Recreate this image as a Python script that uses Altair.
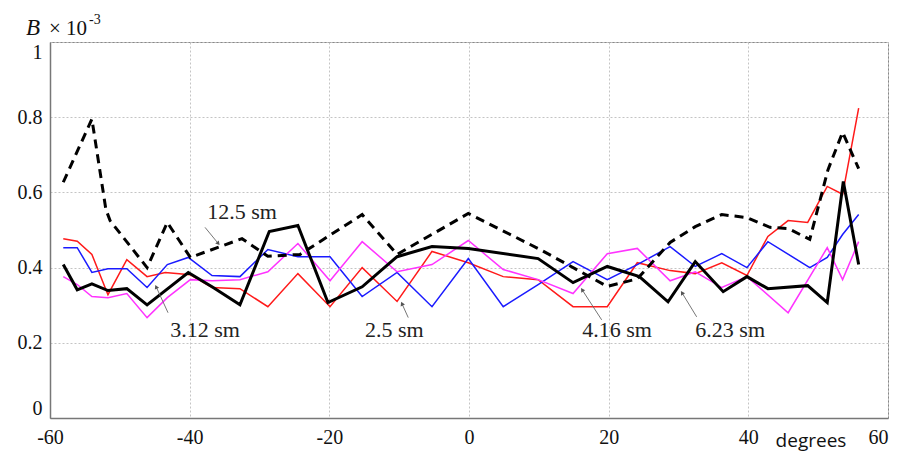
import math
import altair as alt
import pandas as pd

# ---- data ----
red_x = [-58.1, -56.1, -54.0, -51.7, -49.0, -46.1, -43.5, -39.9, -36.8, -32.8, -28.8, -24.5, -19.9, -15.3, -10.3, -5.3,
         -0.1, 4.9, 9.9, 14.9, 19.8, 24.1, 28.8, 32.4, 36.2, 39.8, 42.8, 45.7, 48.5, 51.3, 53.5, 55.8]
red_y = [0.477, 0.470, 0.435, 0.328, 0.421, 0.376, 0.387, 0.381, 0.347, 0.344, 0.296, 0.384, 0.296, 0.400, 0.310, 0.443,
         0.413, 0.376, 0.368, 0.296, 0.296, 0.413, 0.392, 0.384, 0.413, 0.379, 0.483, 0.525, 0.520, 0.616, 0.595, 0.824]

blue_x = [-58.1, -56.1, -54.0, -51.7, -49.0, -46.1, -43.2, -40.2, -36.8, -32.8, -28.8, -24.5, -19.9, -15.3, -10.3, -5.3,
          -0.1, 4.9, 9.9, 14.9, 19.8, 24.1, 28.8, 32.4, 36.2, 39.8, 42.8, 48.8, 51.3, 53.5, 55.8]
blue_y = [0.453, 0.453, 0.387, 0.397, 0.397, 0.347, 0.408, 0.427, 0.379, 0.376, 0.448, 0.429, 0.429, 0.323, 0.387, 0.296,
          0.424, 0.296, 0.355, 0.416, 0.368, 0.408, 0.456, 0.403, 0.437, 0.400, 0.469, 0.400, 0.427, 0.488, 0.541]

mag_x = [-58.1, -56.1, -54.0, -51.7, -49.0, -46.1, -43.2, -39.9, -36.8, -32.8, -28.8, -24.5, -19.9, -15.3, -10.3, -5.3,
         -0.1, 4.9, 9.9, 14.9, 19.8, 24.1, 28.8, 32.4, 36.2, 39.8, 45.7, 51.3, 53.5, 55.8]
mag_y = [0.376, 0.355, 0.323, 0.320, 0.331, 0.267, 0.320, 0.368, 0.365, 0.368, 0.389, 0.464, 0.365, 0.469, 0.389, 0.408,
         0.472, 0.395, 0.368, 0.331, 0.437, 0.451, 0.365, 0.389, 0.347, 0.376, 0.280, 0.453, 0.368, 0.469]

blk_x = [-58.1, -56.1, -54.0, -51.7, -49.0, -46.1, -40.2, -36.8, -32.8, -28.6, -24.5, -20.2, -15.3, -10.3, -5.3, -0.1,
         9.9, 14.9, 19.8, 24.4, 28.5, 32.4, 36.4, 39.8, 42.8, 48.5, 51.3, 53.6, 55.8]
blk_y = [0.408, 0.341, 0.357, 0.339, 0.344, 0.301, 0.387, 0.349, 0.301, 0.496, 0.512, 0.307, 0.349, 0.429, 0.456, 0.451,
         0.424, 0.360, 0.403, 0.376, 0.309, 0.416, 0.336, 0.376, 0.344, 0.352, 0.307, 0.629, 0.408]

dash_x = [-58.1, -54.0, -52.0, -51.4, -46.1, -43.2, -39.9, -32.5, -28.8, -24.2, -15.3, -10.3, -0.1, 10.2, 19.8, 24.1,
          28.8, 32.4, 36.2, 39.8, 43.1, 45.7, 48.8, 51.4, 53.5, 55.8]
dash_y = [0.627, 0.795, 0.555, 0.525, 0.400, 0.520, 0.427, 0.477, 0.430, 0.435, 0.541, 0.435, 0.544, 0.448, 0.350, 0.370,
          0.467, 0.509, 0.541, 0.533, 0.507, 0.504, 0.475, 0.660, 0.760, 0.663]

# annotations: label, text position, arrow tail, arrow head
ann_label = ["12.5 sm", "3.12 sm", "2.5 sm", "4.16 sm", "6.23 sm"]
ann_tx = [-32.5, -37.8, -10.7, 21.2, 37.4]
ann_ty = [0.547, 0.235, 0.235, 0.235, 0.235]
arr_x1 = [-37.8, -43.1, -8.7, 19.0, 32.6]
arr_y1 = [0.507, 0.280, 0.267, 0.261, 0.269]
arr_x2 = [-35.9, -44.8, -9.6, 16.2, 30.5]
arr_y2 = [0.464, 0.349, 0.304, 0.341, 0.333]

x_ticks = [-60, -40, -20, 0, 20, 40, 60]
y_ticks = [0, 0.2, 0.4, 0.6, 0.8, 1]

W, H = 838, 376
XMIN, XMAX = -60, 60
YMIN, YMAX = 0, 1

xscale = alt.Scale(domain=[XMIN, XMAX], nice=False, zero=False)
yscale = alt.Scale(domain=[YMIN, YMAX], nice=False)

xaxis = alt.Axis(values=x_ticks, title=None, labelFlush=False, ticks=False, labelPadding=9,
                 labelExpr="datum.value < 0 ? '-' + abs(datum.value) : '' + datum.value",
                 labelAlign={"expr": "datum.value == 60 ? 'right' : 'center'"})
yaxis = alt.Axis(values=y_ticks, title=None, labelFlush=True, ticks=False, labelPadding=8,
                 labelExpr="datum.value == 1 ? '1' : (datum.value == 0 ? '0' : format(datum.value, '.1f'))")


def X(field):
    return alt.X(field, type="quantitative", scale=xscale, axis=xaxis)


def Y(field):
    return alt.Y(field, type="quantitative", scale=yscale, axis=yaxis)


def series(xs, ys, name):
    return pd.DataFrame({"deg": xs, "B": ys, "s": name, "i": range(len(xs))})


def line(df, color, width, dash=None):
    kw = dict(color=color, strokeWidth=width, clip=False)
    if dash:
        kw["strokeDash"] = dash
    return alt.Chart(df).mark_line(**kw).encode(x=X("deg"), y=Y("B"), order="i:Q")


red = line(series(red_x, red_y, "red"), "#ff1a1a", 1.5)
blue = line(series(blue_x, blue_y, "blue"), "#1a1aff", 1.5)
mag = line(series(mag_x, mag_y, "mag"), "#ff33ff", 1.5)
blk = line(series(blk_x, blk_y, "blk"), "#000000", 3)
dsh = line(series(dash_x, dash_y, "dash"), "#000000", 3, dash=[9, 6])

ann = pd.DataFrame({"label": ann_label, "tx": ann_tx, "ty": ann_ty,
                    "x1": arr_x1, "y1": arr_y1, "x2": arr_x2, "y2": arr_y2})
pxx = W / (XMAX - XMIN)
pxy = H / (YMAX - YMIN)
ann["ang"] = [
    (math.degrees(math.atan2((b - a) * pxx, (d - c) * pxy)) + 360) % 360
    for a, b, c, d in zip(ann.x1, ann.x2, ann.y1, ann.y2)
]

texts = alt.Chart(ann).mark_text(font="Liberation Serif", fontSize=22, color="#222",
                                 align="center", baseline="middle").encode(
    x=X("tx"), y=Y("ty"), text="label:N")
arrows = alt.Chart(ann).mark_rule(color="#666", strokeWidth=0.9).encode(
    x=X("x1"), y=Y("y1"), x2="x2:Q", y2="y2:Q")
heads = alt.Chart(ann).mark_point(shape="triangle-up", filled=True, color="#555", size=22, opacity=1).encode(
    x=X("x2"), y=Y("y2"), angle=alt.Angle("ang:Q", scale=None))

one = pd.DataFrame({"k": [0]})
title_b = alt.Chart(one).mark_text(text="B", font="Liberation Serif", fontStyle="italic", fontSize=23,
                                   align="center", baseline="middle", color="#111").encode(
    x=alt.value(-17), y=alt.value(-14))
title_10 = alt.Chart(one).mark_text(text="\u00d7 10", font="Liberation Serif", fontSize=21,
                                    align="left", baseline="middle", color="#111").encode(
    x=alt.value(-1), y=alt.value(-13))
title_sup = alt.Chart(one).mark_text(text="-3", font="Liberation Serif", fontSize=14,
                                     align="left", baseline="middle", color="#111").encode(
    x=alt.value(39), y=alt.value(-22))
deg_lbl = alt.Chart(one).mark_text(text="degrees", font="Open Sans", fontSize=19,
                                   align="center", baseline="middle", color="#111").encode(
    x=alt.value(761), y=alt.value(23 + H))

chart = alt.layer(red, blue, mag, dsh, blk, arrows, heads, texts,
                  title_b, title_10, title_sup, deg_lbl).properties(
    width=W, height=H,
    autosize=alt.AutoSizeParams(type="none"),
    padding={"left": 42, "top": 34, "right": 2, "bottom": 40},
    background="white",
).configure_view(
    stroke="#888", strokeWidth=1
).configure_axis(
    labelFont="Liberation Serif", labelFontSize=20, labelColor="#111",
    grid=True, gridColor="#c4c4c4", gridDash=[2, 2], gridWidth=1,
    domainColor="#777", domainWidth=1.5,
)

chart.save("out.html", embed_options={"renderer": "svg", "actions": False})
